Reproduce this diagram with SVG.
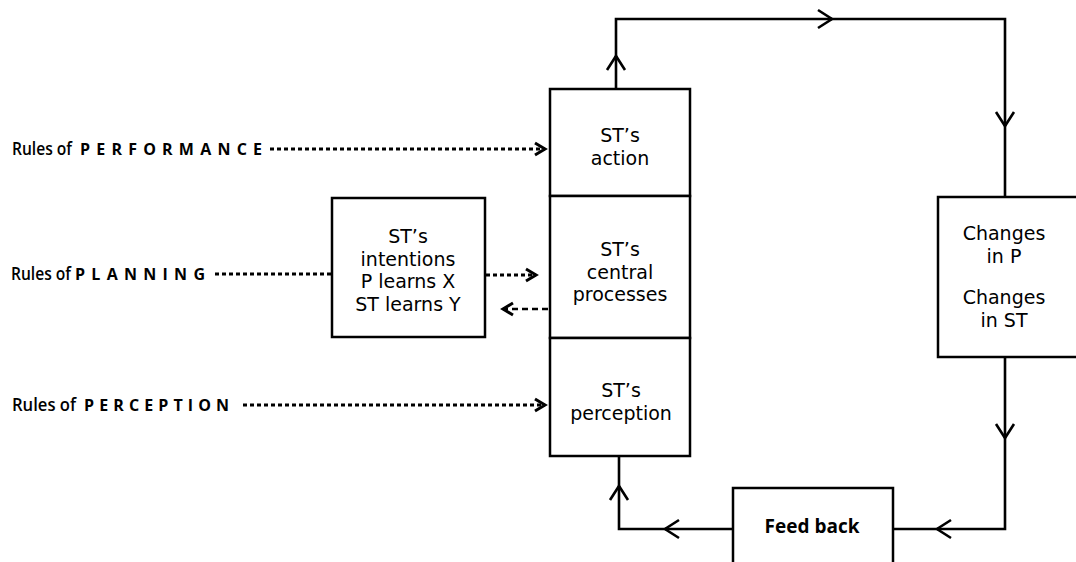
<svg xmlns="http://www.w3.org/2000/svg" width="1076" height="562" viewBox="0 0 1076 562">
<style>
.box{fill:#fff;stroke:#000;stroke-width:2.5}
.lbl{font-family:"DejaVu Sans","Open Sans",sans-serif;font-size:19px;fill:#000;text-anchor:middle}
.fb{font-family:"Open Sans","DejaVu Sans",sans-serif;font-weight:700}
.rule{font-family:"Open Sans","DejaVu Sans",sans-serif;font-size:18px;font-weight:600;fill:#000}
.sc{font-family:"Open Sans","DejaVu Sans",sans-serif;font-size:16px;font-weight:700;fill:#000}
.ln{fill:none;stroke:#000;stroke-width:2.6}
.dot{fill:none;stroke:#000;stroke-width:3;stroke-dasharray:4 3}
.dash{fill:none;stroke:#000;stroke-width:2.5;stroke-dasharray:6 4}
</style>
<defs>
<marker id="chev" viewBox="0 0 16 20" refX="15" refY="10" markerWidth="16" markerHeight="20" markerUnits="userSpaceOnUse" orient="auto" overflow="visible">
<path d="M1,1 L15,10 L1,19" fill="none" stroke="#000" stroke-width="2.6"/>
</marker>
<marker id="dchev" viewBox="0 0 12 14" refX="11" refY="7" markerWidth="12" markerHeight="14" markerUnits="userSpaceOnUse" orient="auto" overflow="visible">
<path d="M1,1 L11,7 L1,13" fill="none" stroke="#000" stroke-width="3"/>
</marker>
</defs>
<rect width="1076" height="562" fill="#fff"/>

<g id="connectors">
<path class="ln" d="M616,89 L616,56" marker-end="url(#chev)"/>
<path class="ln" d="M616,58 L616,19 L832,19" marker-end="url(#chev)"/>
<path class="ln" d="M830,19 L1005,19 L1005,126" marker-end="url(#chev)"/>
<path class="ln" d="M1005,124 L1005,197"/>
<path class="ln" d="M1005,357 L1005,438" marker-end="url(#chev)"/>
<path class="ln" d="M1005,436 L1005,529 L937,529" marker-end="url(#chev)"/>
<path class="ln" d="M939,529 L893,529"/>
<path class="ln" d="M733,529 L665,529" marker-end="url(#chev)"/>
<path class="ln" d="M667,529 L619,529 L619,486" marker-end="url(#chev)"/>
<path class="ln" d="M619,488 L619,456"/>
<path class="dot" d="M270,149 L545,149" marker-end="url(#dchev)"/>
<path class="dot" d="M215,274 L332,274"/>
<path class="dot" d="M486,275 L536,275" marker-end="url(#dchev)"/>
<path class="dash" d="M548,309 L503,309" marker-end="url(#dchev)"/>
<path class="dot" d="M243,405 L545,405" marker-end="url(#dchev)"/>
</g>

<g id="rule-performance">
<text class="rule" x="12" y="155" textLength="60" lengthAdjust="spacingAndGlyphs">Rules of</text>
<text class="sc" x="80" y="155" textLength="182" lengthAdjust="spacing">PERFORMANCE</text>
</g>
<g id="rule-planning">
<text class="rule" x="11" y="280" textLength="60" lengthAdjust="spacingAndGlyphs">Rules of</text>
<text class="sc" x="75" y="280" textLength="130" lengthAdjust="spacing">PLANNING</text>
</g>
<g id="rule-perception">
<text class="rule" x="12" y="411" textLength="64" lengthAdjust="spacingAndGlyphs">Rules of</text>
<text class="sc" x="84" y="411" textLength="145" lengthAdjust="spacing">PERCEPTION</text>
</g>

<g id="action">
<rect class="box" x="550" y="89" width="140" height="107"/>
<text class="lbl" x="620" y="142"><tspan x="620">ST’s</tspan><tspan x="620" dy="22.5">action</tspan></text>
</g>
<g id="central">
<rect class="box" x="550" y="196" width="140" height="142"/>
<text class="lbl" x="620" y="256"><tspan x="620">ST’s</tspan><tspan x="620" dy="22.5">central</tspan><tspan x="620" dy="22.5">processes</tspan></text>
</g>
<g id="perception">
<rect class="box" x="550" y="338" width="140" height="118"/>
<text class="lbl" x="621" y="397"><tspan x="621">ST’s</tspan><tspan x="621" dy="22.5">perception</tspan></text>
</g>
<g id="intentions">
<rect class="box" x="332" y="198" width="153" height="139"/>
<text class="lbl" x="408" y="243"><tspan x="408">ST’s</tspan><tspan x="408" dy="22.5">intentions</tspan><tspan x="408" dy="22.5">P learns X</tspan><tspan x="408" dy="22.5">ST learns Y</tspan></text>
</g>
<g id="changes">
<rect class="box" x="938" y="197" width="160" height="160"/>
<text class="lbl" x="1004" y="240"><tspan x="1004">Changes</tspan><tspan x="1004" dy="22.5">in P</tspan><tspan x="1004" dy="41.5">Changes</tspan><tspan x="1004" dy="22.5">in ST</tspan></text>
</g>
<g id="feedback">
<rect class="box" x="733" y="488" width="160" height="100"/>
<text class="lbl fb" x="812" y="533">Feed back</text>
</g>
</svg>
